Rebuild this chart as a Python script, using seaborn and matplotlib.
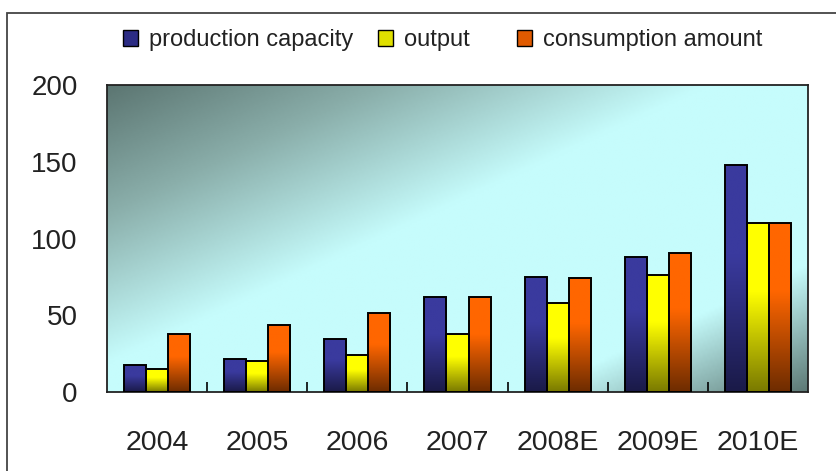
import numpy as np
import pandas as pd
import matplotlib
matplotlib.use('Agg')
import matplotlib.pyplot as plt
from matplotlib.patches import Rectangle, Patch
from matplotlib.colors import LinearSegmentedColormap
import seaborn as sns

# data
years = ['2004', '2005', '2006', '2007', '2008E', '2009E', '2010E']
capacity = [17.5, 21.5, 34.5, 62, 75, 88, 148]
output = [15, 20, 24, 38, 58, 76, 110]
consumption = [38, 43.5, 51.5, 62, 74.5, 90.5, 110]
series = ['production capacity', 'output', 'consumption amount']

df = pd.DataFrame({
    'year': years * 3,
    'value': capacity + output + consumption,
    'series': [series[0]] * 7 + [series[1]] * 7 + [series[2]] * 7,
})

solid = {'production capacity': '#2c2c84', 'output': '#e0e000', 'consumption amount': '#e05a00'}
grads = {
    'production capacity': ('#1a1a48', '#3a3a9e'),
    'output': ('#7a7a00', '#ffff00'),
    'consumption amount': ('#6e2c00', '#ff6600'),
}

sns.set_style('white')
fig = plt.figure(figsize=(8.36, 4.71), dpi=100)
ax = fig.add_axes([107 / 836, 79 / 471, 701 / 836, 307 / 471])

sns.barplot(data=df, x='year', y='value', hue='series', palette=solid,
            width=0.66, gap=0, ax=ax, legend=False)

ax.set_xlim(-0.5, 6.5)
ax.set_ylim(0, 200)

# background gradient (dark top-left, light middle, dark bottom-right)
bg = LinearSegmentedColormap.from_list('bg', [
    (0.0, '#5c7672'), (0.2, '#8aaeaa'), (0.44, '#c6fcfc'), (0.8, '#c6fcfc'),
    (1.0, '#5e7a76')])
xx, yy = np.meshgrid(np.linspace(0, 1, 300), np.linspace(0, 1, 150))
s = (xx / 0.85 + yy / 0.9) / 2.29
ax.imshow(s, cmap=bg, extent=(-0.5, 6.5, 0, 200), origin='upper', aspect='auto',
          zorder=0, interpolation='bilinear', vmin=0, vmax=1)

# vertical gradient fill per bar
bars = list(ax.patches)
for i, p in enumerate(bars):
    name = series[i // 7]
    lo, hi = grads[name]
    cmap = LinearSegmentedColormap.from_list(name, [(0, lo), (0.6, hi), (1, hi)])
    x0, y0 = p.get_x(), p.get_y()
    w, h = p.get_width(), p.get_height()
    g = np.linspace(0, 1, 100).reshape(-1, 1)
    im = ax.imshow(g, cmap=cmap, extent=(x0, x0 + w, y0, y0 + h), origin='lower',
                   aspect='auto', zorder=2, interpolation='bilinear')
    im.set_clip_path(p)
    p.set_facecolor('none')
    p.set_edgecolor('black')
    p.set_linewidth(1.4)
    p.set_zorder(3)
ax.set_xlim(-0.5, 6.5)
ax.set_ylim(0, 200)

for sp in ax.spines.values():
    sp.set_visible(True)
    sp.set_color('#222222')
    sp.set_linewidth(1.3)

ax.set_xlabel('')
ax.set_ylabel('')
ax.set_yticks([0, 50, 100, 150, 200])
ax.set_yticklabels(['0', '50', '100', '150', '200'], family='Liberation Sans',
                   fontsize=20, color='#222222')
ax.tick_params(axis='y', direction='in', length=6, width=1.2, color='black', pad=21)
ax.set_xticks(range(7))
ax.set_xticklabels(years, family='Liberation Sans', fontsize=20.5, color='#222222')
ax.tick_params(axis='x', which='major', length=0, pad=27)
ax.set_xticks([0.5, 1.5, 2.5, 3.5, 4.5, 5.5], minor=True)
ax.tick_params(axis='x', which='minor', direction='in', length=7, width=1.2,
               color='black', bottom=True)

# legend: one entry per item so the uneven spacing can be kept
leg_x = [123, 378, 517]
for n, lx in zip(series, leg_x):
    h = Patch(facecolor=solid[n], edgecolor='black', linewidth=1.0)
    lg = fig.legend([h], [n], loc='center left', bbox_to_anchor=(lx / 836, 1 - 40 / 471),
                    frameon=False, prop={'family': 'Liberation Sans', 'size': 17},
                    handlelength=0.65, handleheight=0.65, handletextpad=0.45,
                    borderpad=0, borderaxespad=0)
    for t in lg.get_texts():
        t.set_color('#222222')

# outer frame
fig.patches.append(Rectangle((7 / 836, -0.2), 1.2, 1.2 - 13 / 471,
                             transform=fig.transFigure, fill=False,
                             edgecolor='#444444', linewidth=1.3))

fig.savefig('out.png', dpi=100)
